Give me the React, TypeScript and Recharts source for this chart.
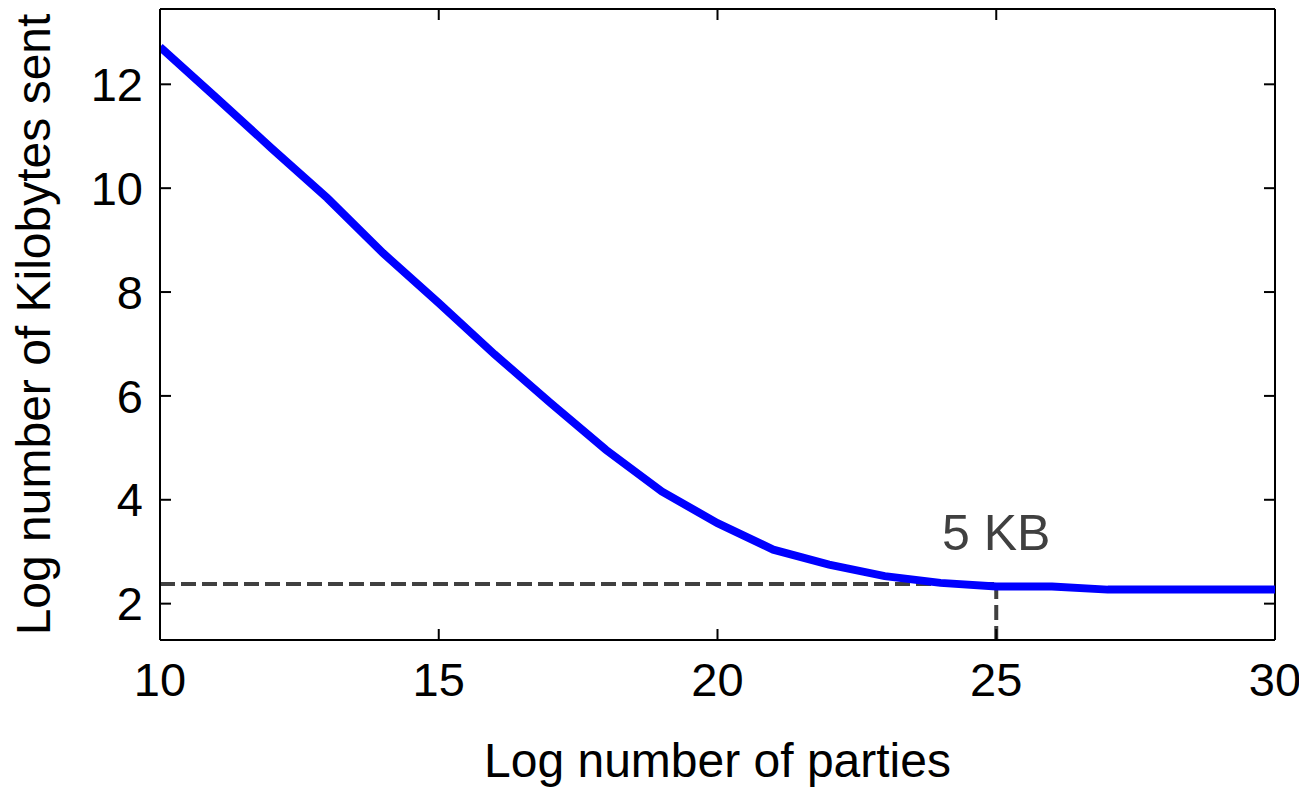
import { LineChart, Line, XAxis, YAxis, ReferenceLine, ReferenceDot } from "recharts";

// log2 of parties vs log2 of KB sent
const parties = [10, 11, 12, 13, 14, 15, 16, 17, 18, 19, 20, 21, 22, 23, 24, 25, 26, 27, 28, 29, 30];
const kbSent = [12.72, 11.75, 10.77, 9.81, 8.75, 7.79, 6.8, 5.87, 4.96, 4.16, 3.55, 3.04, 2.75, 2.53, 2.4, 2.33, 2.33, 2.27, 2.27, 2.27, 2.27];
const xTicks = [10, 15, 20, 25, 30];
const yTicks = [2, 4, 6, 8, 10, 12];
const markX = 25;
const markY = 2.38;
const markLabel = "5 KB";

const xDomain = [10, 30];
const yDomain = [1.3, 13.45];
const FONT = '"Liberation Sans", Arial, sans-serif';
const DASH = "#404040";

// plot box inside the svg
const W = 1299;
const H = 780;
const PLOT_LEFT = 152;
const PLOT_TOP = 1;
const PLOT_RIGHT = 1267;
const PLOT_BOTTOM = 632;
const TICK_LEN = 11;

// matlab style: ticks point inwards on all four sides
function BottomTick(props: any) {
  const { x, payload } = props;
  return (
    <g>
      <line x1={x} x2={x} y1={PLOT_BOTTOM} y2={PLOT_BOTTOM - TICK_LEN} stroke="#000" strokeWidth={2} />
      <line x1={x} x2={x} y1={PLOT_TOP} y2={PLOT_TOP + TICK_LEN} stroke="#000" strokeWidth={2} />
      <text x={x} y={PLOT_BOTTOM + 23} dy="0.71em" textAnchor="middle" fontSize={47} fontFamily={FONT} fill="#000">
        {payload.value}
      </text>
    </g>
  );
}

function LeftTick(props: any) {
  const { y, payload } = props;
  return (
    <g>
      <line x1={PLOT_LEFT} x2={PLOT_LEFT + TICK_LEN} y1={y} y2={y} stroke="#000" strokeWidth={2} />
      <line x1={PLOT_RIGHT} x2={PLOT_RIGHT - TICK_LEN} y1={y} y2={y} stroke="#000" strokeWidth={2} />
      <text x={PLOT_LEFT - 17} y={y} dy="0.355em" textAnchor="end" fontSize={47} fontFamily={FONT} fill="#000">
        {payload.value}
      </text>
    </g>
  );
}

export default function App() {
  const data = parties.map((p, i) => ({ parties: p, kb: kbSent[i] }));
  const axisStroke = { stroke: "#000", strokeWidth: 2 };

  return (
    <div style={{ width: W, height: H, fontFamily: FONT }}>
      <LineChart
        width={W}
        height={H}
        data={data}
        margin={{ top: PLOT_TOP, right: W - PLOT_RIGHT, left: 0, bottom: 0 }}
      >
        <XAxis
          dataKey="parties"
          type="number"
          domain={xDomain}
          ticks={xTicks}
          allowDataOverflow
          height={H - PLOT_BOTTOM}
          axisLine={axisStroke}
          tickLine={false}
          tickSize={0}
          tick={<BottomTick />}
          label={{
            value: "Log number of parties",
            position: "insideBottom",
            offset: 11,
            fontSize: 48,
            fill: "#000",
            fontFamily: FONT,
          }}
        />
        <YAxis
          type="number"
          domain={yDomain}
          ticks={yTicks}
          allowDataOverflow
          width={PLOT_LEFT}
          axisLine={axisStroke}
          tickLine={false}
          tickSize={0}
          tick={<LeftTick />}
          label={{
            value: "Log number of Kilobytes sent",
            angle: -90,
            position: "insideLeft",
            offset: 25,
            fontSize: 48,
            fill: "#000",
            fontFamily: FONT,
            style: { textAnchor: "middle" },
          }}
        />
        <ReferenceLine y={yDomain[1]} stroke="#000" strokeWidth={2} />
        <ReferenceLine x={xDomain[1]} stroke="#000" strokeWidth={2} />
        <ReferenceLine
          segment={[
            { x: xDomain[0], y: markY },
            { x: markX, y: markY },
          ]}
          stroke={DASH}
          strokeWidth={4}
          strokeDasharray="15 6"
        />
        <ReferenceLine
          segment={[
            { x: markX, y: markY },
            { x: markX, y: yDomain[0] },
          ]}
          stroke={DASH}
          strokeWidth={4}
          strokeDasharray="15 6"
        />
        <Line
          type="linear"
          dataKey="kb"
          stroke="#0000ff"
          strokeWidth={8}
          dot={false}
          activeDot={false}
          isAnimationActive={false}
        />
        <ReferenceDot
          x={markX}
          y={markY}
          r={0}
          stroke="none"
          fill="none"
          label={{
            value: markLabel,
            position: "top",
            offset: 34,
            fontSize: 50,
            fill: DASH,
            fontFamily: FONT,
          }}
        />
      </LineChart>
    </div>
  );
}
